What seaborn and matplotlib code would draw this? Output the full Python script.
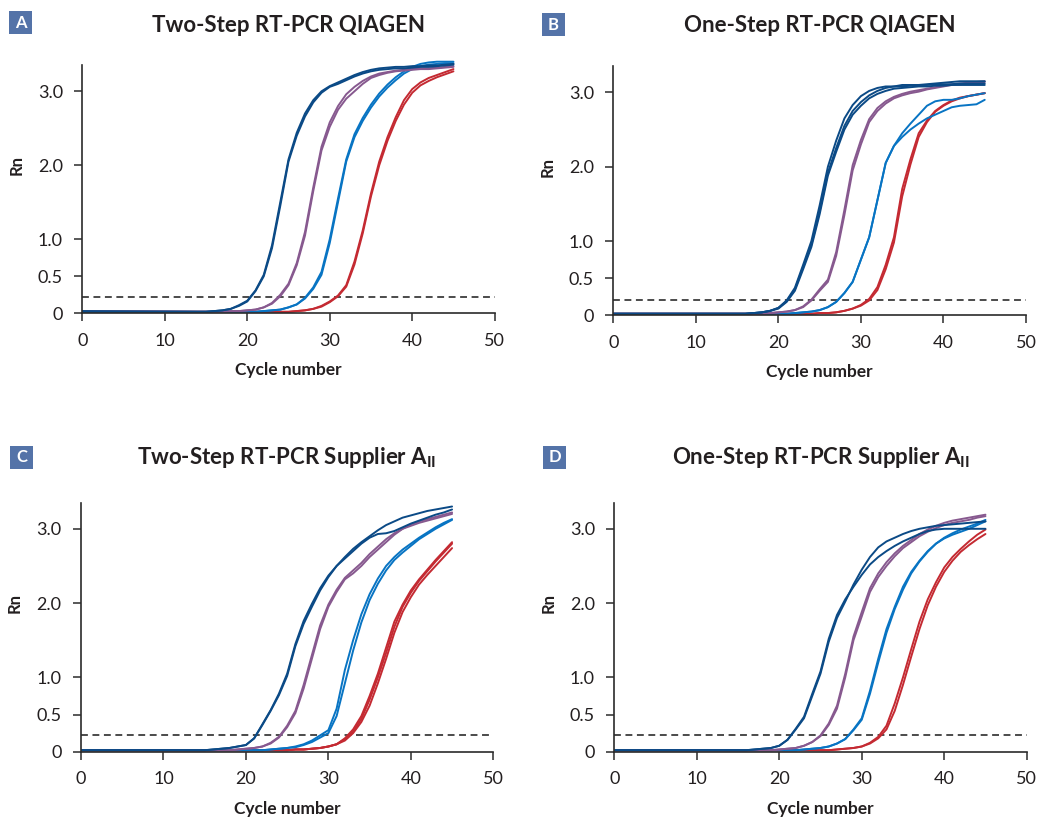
import matplotlib
matplotlib.use("Agg")
import matplotlib.pyplot as plt
import pandas as pd
import seaborn as sns
from matplotlib.patches import Rectangle

# ---------------- data ----------------
CYCLES = [0] + list(range(14, 46))          # cycle 0, then 14..45
GROUP_ORDER = ["red", "blue", "purple", "navy"]
PALETTE = {"navy": "#0b4a86", "purple": "#87598f", "blue": "#0874c3", "red": "#c42a32"}

PANEL_LETTERS = ["A", "B", "C", "D"]
PANEL_TITLES = ["Two-Step RT-PCR QIAGEN",
                "One-Step RT-PCR QIAGEN",
                r"Two-Step RT-PCR Supplier A$_{\mathregular{II}}$",
                r"One-Step RT-PCR Supplier A$_{\mathregular{II}}$"]
THRESHOLDS = [0.22, 0.21, 0.22, 0.22]
X_TICKS = [0, 10, 20, 30, 40, 50]
Y_TICKS = [0, 0.5, 1.0, 2.0, 3.0]
Y_TICK_LABELS = ["0", "0.5", "1.0", "2.0", "3.0"]
X_LABEL = "Cycle number"
Y_LABEL = "Rn"

# Panel A
A_NAVY = [
    [0.02, 0.02, 0.02, 0.03, 0.04, 0.06, 0.10,
     0.16, 0.30, 0.50, 0.88, 1.45, 2.05, 2.40, 2.66, 2.85, 2.98,
     3.06, 3.10, 3.15, 3.20, 3.24, 3.27, 3.29, 3.30, 3.31, 3.31,
     3.32, 3.33, 3.33, 3.34, 3.35, 3.36],
    [0.03, 0.02, 0.02, 0.03, 0.04, 0.06, 0.11,
     0.17, 0.31, 0.52, 0.92, 1.50, 2.08, 2.44, 2.70, 2.88, 3.00,
     3.07, 3.12, 3.17, 3.22, 3.26, 3.29, 3.31, 3.32, 3.33, 3.33,
     3.34, 3.34, 3.35, 3.35, 3.36, 3.37],
]
A_PURPLE = [
    [0.03, 0.02, 0.02, 0.02, 0.02, 0.03, 0.03,
     0.04, 0.05, 0.08, 0.13, 0.23, 0.38, 0.65, 1.05, 1.65, 2.20,
     2.52, 2.75, 2.90, 3.00, 3.10, 3.18, 3.22, 3.25, 3.27, 3.28,
     3.29, 3.30, 3.30, 3.31, 3.32, 3.33],
    [0.03, 0.02, 0.02, 0.02, 0.02, 0.03, 0.03,
     0.04, 0.05, 0.08, 0.14, 0.25, 0.40, 0.68, 1.10, 1.70, 2.25,
     2.58, 2.80, 2.96, 3.06, 3.14, 3.20, 3.24, 3.26, 3.28, 3.29,
     3.30, 3.31, 3.31, 3.32, 3.33, 3.34],
]
A_BLUE = [
    [0.02, 0.02, 0.02, 0.02, 0.02, 0.02, 0.02,
     0.02, 0.02, 0.03, 0.04, 0.05, 0.08, 0.12, 0.20, 0.33, 0.52,
     0.95, 1.50, 2.05, 2.38, 2.60, 2.78, 2.93, 3.05, 3.15, 3.24,
     3.30, 3.34, 3.36, 3.37, 3.38, 3.38],
    [0.02, 0.02, 0.02, 0.02, 0.02, 0.02, 0.02,
     0.02, 0.02, 0.03, 0.04, 0.05, 0.08, 0.12, 0.21, 0.35, 0.56,
     1.00, 1.55, 2.08, 2.42, 2.64, 2.82, 2.97, 3.09, 3.19, 3.27,
     3.33, 3.37, 3.39, 3.40, 3.40, 3.40],
]
A_RED = [
    [0.02, 0.02, 0.02, 0.02, 0.02, 0.02, 0.02,
     0.02, 0.02, 0.02, 0.02, 0.02, 0.02, 0.03, 0.04, 0.06, 0.10,
     0.16, 0.24, 0.38, 0.70, 1.12, 1.62, 2.05, 2.38, 2.65, 2.88,
     3.03, 3.12, 3.18, 3.22, 3.26, 3.30],
    [0.02, 0.02, 0.02, 0.02, 0.02, 0.02, 0.02,
     0.02, 0.02, 0.02, 0.02, 0.02, 0.02, 0.03, 0.04, 0.06, 0.09,
     0.15, 0.23, 0.36, 0.66, 1.08, 1.58, 2.00, 2.33, 2.60, 2.82,
     2.98, 3.08, 3.14, 3.19, 3.23, 3.27],
]

# Panel B
B_NAVY = [
    [0.02, 0.02, 0.02, 0.02, 0.03, 0.04, 0.06,
     0.10, 0.19, 0.35, 0.65, 0.95, 1.40, 1.92, 2.25, 2.55, 2.75,
     2.87, 2.96, 3.02, 3.06, 3.08, 3.10, 3.10, 3.10, 3.11, 3.12,
     3.13, 3.14, 3.15, 3.15, 3.15, 3.15],
    [0.02, 0.02, 0.02, 0.02, 0.03, 0.04, 0.06,
     0.10, 0.20, 0.37, 0.68, 1.00, 1.48, 2.00, 2.35, 2.65, 2.83,
     2.95, 3.02, 3.06, 3.08, 3.08, 3.08, 3.09, 3.10, 3.10, 3.11,
     3.11, 3.11, 3.12, 3.12, 3.12, 3.12],
    [0.02, 0.02, 0.02, 0.02, 0.03, 0.04, 0.06,
     0.09, 0.18, 0.33, 0.62, 0.92, 1.36, 1.88, 2.20, 2.50, 2.70,
     2.82, 2.92, 2.98, 3.02, 3.05, 3.06, 3.07, 3.08, 3.08, 3.09,
     3.09, 3.10, 3.10, 3.10, 3.10, 3.10],
]
B_PURPLE = [
    [0.02, 0.02, 0.02, 0.02, 0.02, 0.02, 0.03,
     0.04, 0.05, 0.07, 0.11, 0.20, 0.33, 0.45, 0.80, 1.35, 1.95,
     2.30, 2.60, 2.75, 2.85, 2.92, 2.96, 2.99, 3.01, 3.04, 3.06,
     3.08, 3.10, 3.11, 3.12, 3.13, 3.14],
    [0.02, 0.02, 0.02, 0.02, 0.02, 0.02, 0.03,
     0.04, 0.05, 0.07, 0.12, 0.21, 0.35, 0.48, 0.85, 1.42, 2.02,
     2.36, 2.64, 2.79, 2.88, 2.94, 2.98, 3.01, 3.03, 3.05, 3.07,
     3.09, 3.11, 3.12, 3.13, 3.14, 3.15],
]
B_BLUE = [
    [0.02, 0.02, 0.02, 0.02, 0.02, 0.02, 0.02,
     0.02, 0.02, 0.03, 0.04, 0.05, 0.07, 0.11, 0.18, 0.30, 0.45,
     0.75, 1.05, 1.55, 2.05, 2.28, 2.45, 2.58, 2.70, 2.82, 2.88,
     2.90, 2.90, 2.92, 2.95, 2.97, 2.99],
    [0.02, 0.02, 0.02, 0.02, 0.02, 0.02, 0.02,
     0.02, 0.02, 0.03, 0.04, 0.05, 0.07, 0.11, 0.18, 0.30, 0.45,
     0.75, 1.05, 1.55, 2.05, 2.28, 2.40, 2.50, 2.58, 2.65, 2.70,
     2.75, 2.80, 2.82, 2.83, 2.84, 2.90],
]
B_RED = [
    [0.02, 0.02, 0.02, 0.02, 0.02, 0.02, 0.02,
     0.02, 0.02, 0.02, 0.02, 0.02, 0.03, 0.03, 0.04, 0.06, 0.09,
     0.14, 0.22, 0.38, 0.68, 1.05, 1.70, 2.10, 2.45, 2.62, 2.75,
     2.83, 2.89, 2.93, 2.95, 2.97, 2.99],
    [0.02, 0.02, 0.02, 0.02, 0.02, 0.02, 0.02,
     0.02, 0.02, 0.02, 0.02, 0.02, 0.03, 0.03, 0.04, 0.06, 0.09,
     0.13, 0.20, 0.34, 0.62, 0.98, 1.60, 2.03, 2.40, 2.60, 2.74,
     2.82, 2.88, 2.92, 2.95, 2.97, 2.99],
]

# Panel C
C_NAVY = [
    [0.02, 0.02, 0.02, 0.03, 0.04, 0.05, 0.07,
     0.09, 0.18, 0.36, 0.55, 0.76, 1.02, 1.42, 1.72, 1.95, 2.17,
     2.35, 2.50, 2.62, 2.73, 2.82, 2.90, 2.98, 3.05, 3.10, 3.15,
     3.18, 3.21, 3.24, 3.26, 3.28, 3.30],
    [0.02, 0.02, 0.02, 0.03, 0.04, 0.05, 0.07,
     0.09, 0.18, 0.37, 0.56, 0.78, 1.05, 1.45, 1.76, 1.99, 2.20,
     2.37, 2.50, 2.60, 2.70, 2.80, 2.88, 2.93, 2.94, 2.97, 3.02,
     3.07, 3.11, 3.15, 3.19, 3.22, 3.26],
]
C_PURPLE = [
    [0.02, 0.02, 0.02, 0.02, 0.02, 0.02, 0.03,
     0.04, 0.05, 0.07, 0.11, 0.19, 0.33, 0.52, 0.85, 1.25, 1.65,
     1.95, 2.15, 2.32, 2.40, 2.50, 2.62, 2.72, 2.82, 2.92, 3.00,
     3.06, 3.10, 3.13, 3.16, 3.19, 3.22],
    [0.02, 0.02, 0.02, 0.02, 0.02, 0.02, 0.03,
     0.04, 0.05, 0.07, 0.12, 0.20, 0.35, 0.55, 0.90, 1.30, 1.70,
     1.98, 2.18, 2.34, 2.44, 2.54, 2.66, 2.76, 2.86, 2.94, 3.00,
     3.04, 3.08, 3.11, 3.14, 3.17, 3.20],
]
C_BLUE = [
    [0.02, 0.02, 0.02, 0.02, 0.02, 0.02, 0.02,
     0.02, 0.02, 0.02, 0.03, 0.04, 0.05, 0.07, 0.10, 0.15, 0.22,
     0.29, 0.58, 1.10, 1.50, 1.85, 2.12, 2.33, 2.50, 2.62, 2.72,
     2.80, 2.88, 2.95, 3.02, 3.08, 3.13],
    [0.02, 0.02, 0.02, 0.02, 0.02, 0.02, 0.02,
     0.02, 0.02, 0.02, 0.03, 0.04, 0.05, 0.06, 0.09, 0.13, 0.19,
     0.25, 0.48, 0.92, 1.36, 1.74, 2.04, 2.26, 2.44, 2.58, 2.68,
     2.77, 2.86, 2.93, 3.00, 3.06, 3.12],
]
C_RED = [
    [0.02, 0.02, 0.02, 0.02, 0.02, 0.02, 0.02,
     0.02, 0.02, 0.02, 0.02, 0.02, 0.02, 0.03, 0.03, 0.04, 0.05,
     0.07, 0.10, 0.18, 0.30, 0.48, 0.75, 1.05, 1.40, 1.75, 1.98,
     2.17, 2.32, 2.45, 2.58, 2.70, 2.82],
    [0.02, 0.02, 0.02, 0.02, 0.02, 0.02, 0.02,
     0.02, 0.02, 0.02, 0.02, 0.02, 0.02, 0.03, 0.03, 0.04, 0.05,
     0.07, 0.10, 0.15, 0.25, 0.40, 0.62, 0.92, 1.25, 1.60, 1.88,
     2.08, 2.25, 2.38, 2.50, 2.62, 2.74],
    [0.02, 0.02, 0.02, 0.02, 0.02, 0.02, 0.02,
     0.02, 0.02, 0.02, 0.02, 0.02, 0.02, 0.03, 0.03, 0.04, 0.05,
     0.07, 0.10, 0.17, 0.27, 0.44, 0.70, 1.00, 1.33, 1.68, 1.95,
     2.14, 2.30, 2.43, 2.56, 2.68, 2.80],
]

# Panel D
D_NAVY = [
    [0.02, 0.02, 0.02, 0.02, 0.03, 0.04, 0.05,
     0.08, 0.16, 0.30, 0.45, 0.75, 1.05, 1.48, 1.80, 2.02, 2.25,
     2.45, 2.62, 2.75, 2.83, 2.88, 2.93, 2.97, 3.00, 3.02, 3.04,
     3.05, 3.06, 3.07, 3.08, 3.09, 3.10],
    [0.02, 0.02, 0.02, 0.02, 0.03, 0.04, 0.05,
     0.08, 0.16, 0.31, 0.47, 0.78, 1.08, 1.52, 1.84, 2.05, 2.22,
     2.38, 2.52, 2.62, 2.70, 2.77, 2.83, 2.88, 2.93, 2.97, 2.99,
     3.00, 3.00, 3.00, 3.00, 3.00, 3.00],
]
D_PURPLE = [
    [0.02, 0.02, 0.02, 0.02, 0.02, 0.02, 0.02,
     0.03, 0.04, 0.05, 0.08, 0.13, 0.21, 0.36, 0.58, 1.00, 1.50,
     1.82, 2.15, 2.35, 2.50, 2.63, 2.74, 2.82, 2.90, 2.96, 3.01,
     3.05, 3.08, 3.10, 3.12, 3.15, 3.17],
    [0.02, 0.02, 0.02, 0.02, 0.02, 0.02, 0.02,
     0.03, 0.04, 0.05, 0.08, 0.13, 0.22, 0.38, 0.62, 1.05, 1.55,
     1.88, 2.20, 2.40, 2.55, 2.67, 2.77, 2.85, 2.93, 2.99, 3.04,
     3.08, 3.11, 3.13, 3.15, 3.17, 3.19],
]
D_BLUE = [
    [0.02, 0.02, 0.02, 0.02, 0.02, 0.02, 0.02,
     0.02, 0.02, 0.02, 0.03, 0.04, 0.05, 0.07, 0.11, 0.17, 0.30,
     0.45, 0.82, 1.25, 1.65, 1.95, 2.22, 2.42, 2.57, 2.70, 2.80,
     2.87, 2.92, 2.96, 3.00, 3.05, 3.10],
    [0.02, 0.02, 0.02, 0.02, 0.02, 0.02, 0.02,
     0.02, 0.02, 0.02, 0.03, 0.04, 0.05, 0.07, 0.11, 0.17, 0.29,
     0.43, 0.78, 1.20, 1.60, 1.92, 2.18, 2.40, 2.56, 2.69, 2.80,
     2.88, 2.94, 2.99, 3.03, 3.07, 3.12],
]
D_RED = [
    [0.02, 0.02, 0.02, 0.02, 0.02, 0.02, 0.02,
     0.02, 0.02, 0.02, 0.02, 0.02, 0.02, 0.02, 0.03, 0.04, 0.05,
     0.07, 0.12, 0.20, 0.35, 0.65, 1.00, 1.38, 1.75, 2.05, 2.28,
     2.48, 2.62, 2.73, 2.83, 2.92, 2.99],
    [0.02, 0.02, 0.02, 0.02, 0.02, 0.02, 0.02,
     0.02, 0.02, 0.02, 0.02, 0.02, 0.02, 0.02, 0.03, 0.04, 0.05,
     0.07, 0.11, 0.18, 0.30, 0.55, 0.90, 1.28, 1.65, 1.97, 2.22,
     2.42, 2.57, 2.69, 2.78, 2.86, 2.93],
]

PANEL_DATA = [
    {"navy": A_NAVY, "purple": A_PURPLE, "blue": A_BLUE, "red": A_RED},
    {"navy": B_NAVY, "purple": B_PURPLE, "blue": B_BLUE, "red": B_RED},
    {"navy": C_NAVY, "purple": C_PURPLE, "blue": C_BLUE, "red": C_RED},
    {"navy": D_NAVY, "purple": D_PURPLE, "blue": D_BLUE, "red": D_RED},
]

# ---------------- layout (pixels of a 1037x817 canvas) ----------------
W, H = 1037, 817
Y_TOP = 3.45
AX_PX = [  # (x of 0, x of 50, y pixel of 0, px per unit)
    (82.3, 494.7, 313.3, 74.0),
    (613.3, 1026.0, 315.3, 74.3),
    (81.0, 493.3, 751.7, 74.3),
    (614.3, 1026.7, 751.7, 74.3),
]
BADGES = [(9, 11), (542, 13), (10, 446), (543, 446)]
BADGE_SIZE = 23
TITLE_Y = [25, 25, 458, 458]

TEXT = "#231f20"

sns.set_theme(style="ticks")
plt.rcParams["font.family"] = ["Lato", "DejaVu Sans"]
plt.rcParams["mathtext.fontset"] = "custom"
plt.rcParams["mathtext.rm"] = "Lato:bold"

fig = plt.figure(figsize=(W / 100, H / 100), dpi=100)

for k in range(4):
    x0, x1, y0, unit = AX_PX[k]
    hpx = Y_TOP * unit
    ax = fig.add_axes([x0 / W, (H - y0) / H, (x1 - x0) / W, hpx / H])

    rows = []
    for g in GROUP_ORDER:
        for i, rep in enumerate(PANEL_DATA[k][g]):
            assert len(rep) == len(CYCLES)
            for c, v in zip(CYCLES, rep):
                rows.append({"cycle": c, "rn": v, "group": g, "unit": f"{g}{i}"})
    df = pd.DataFrame(rows)

    sns.lineplot(data=df, x="cycle", y="rn", hue="group", units="unit",
                 estimator=None, hue_order=GROUP_ORDER, palette=PALETTE,
                 lw=1.4, legend=False, ax=ax, sort=False)

    ax.axhline(THRESHOLDS[k], color="#1a1a1a", lw=1.1, ls=(0, (4.5, 3)), zorder=1)

    ax.set_xlim(0, 50)
    ax.set_ylim(0, Y_TOP)
    ax.set_xticks(X_TICKS)
    ax.set_xticklabels([str(t) for t in X_TICKS])
    ax.set_yticks(Y_TICKS)
    ax.set_yticklabels(Y_TICK_LABELS)
    ax.set_xlabel("")
    ax.set_ylabel("")
    for s in ["top", "right"]:
        ax.spines[s].set_visible(False)
    for s in ["left", "bottom"]:
        ax.spines[s].set_color("#2b2b2b")
        ax.spines[s].set_linewidth(1.2)
    ax.spines["left"].set_bounds(0, 3.35)
    ax.tick_params(direction="out", length=6, width=1.1, color="#2b2b2b",
                   labelsize=13, pad=8, labelcolor=TEXT)

    ax.text(0.5, -0.222, X_LABEL, transform=ax.transAxes, ha="center",
            va="center", fontsize=12.5, fontweight="bold", color=TEXT)
    ax.text(-0.16, 2.0 / Y_TOP, Y_LABEL, transform=ax.transAxes, ha="center",
            va="center", rotation=90, fontsize=12, fontweight="bold", color=TEXT)

    # title
    fig.text((x0 + x1) / 2 / W, 1 - TITLE_Y[k] / H, PANEL_TITLES[k],
             ha="center", va="center", fontsize=16, fontweight="bold", color=TEXT)

    # badge
    bx, by = BADGES[k]
    fig.add_artist(Rectangle((bx / W, 1 - (by + BADGE_SIZE) / H),
                             BADGE_SIZE / W, BADGE_SIZE / H,
                             transform=fig.transFigure, fc="#5473a8", ec="none"))
    fig.text((bx + BADGE_SIZE / 2) / W, 1 - (by + BADGE_SIZE / 2) / H,
             PANEL_LETTERS[k], ha="center", va="center", fontsize=12,
             fontweight="bold", color="white")

fig.savefig("out.png", dpi=100, facecolor="white")
